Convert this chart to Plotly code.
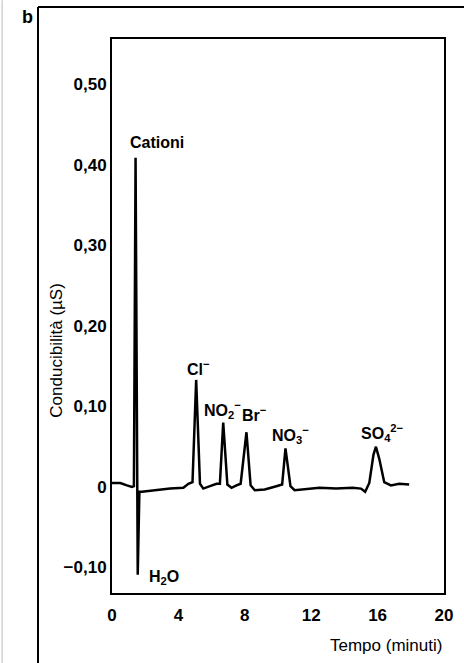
import plotly.graph_objects as go

# Chromatogram trace (time in minutes, conductivity in µS)
time_min = [0.0, 0.5, 0.9, 1.2, 1.32, 1.42, 1.55, 1.65, 1.8, 2.5, 3.5, 4.3, 4.6,
            4.85, 5.07, 5.3, 5.5, 5.9, 6.3, 6.5, 6.7, 6.95, 7.2, 7.5, 7.75, 8.1,
            8.35, 8.6, 9.2, 9.9, 10.25, 10.45, 10.75, 11.0, 11.5, 12.5, 13.5,
            14.5, 15.0, 15.25, 15.5, 15.75, 15.9, 16.1, 16.4, 16.8, 17.3, 17.9]
conduct_uS = [0.005, 0.005, 0.002, 0.0, 0.001, 0.409, -0.109, -0.006, -0.006, -0.004,
              -0.002, -0.001, 0.004, 0.006, 0.133, 0.004, -0.002, 0.001, 0.004, 0.004,
              0.080, 0.003, -0.001, 0.002, 0.004, 0.068, 0.002, -0.004, -0.003, 0.001,
              0.003, 0.048, 0.001, -0.004, -0.003, -0.001, -0.002, -0.001, -0.002,
              -0.006, 0.005, 0.040, 0.050, 0.035, 0.006, 0.002, 0.004, 0.003]

y_tickvals = [-0.10, 0.0, 0.10, 0.20, 0.30, 0.40, 0.50]
y_ticktext = ["\u22120,10", "0", "0,10", "0,20", "0,30", "0,40", "0,50"]
x_tickvals = [0, 4, 8, 12, 16, 20]
x_ticktext = ["0", "4", "8", "12", "16", "20"]

peak_labels = ["Cationi", "Cl<sup>\u2212</sup>", "NO<sub>2</sub><sup>\u2212</sup>",
               "Br<sup>\u2212</sup>", "NO<sub>3</sub><sup>\u2212</sup>",
               "SO<sub>4</sub><sup>2\u2212</sup>", "H<sub>2</sub>O"]
label_x = [2.72, 5.2, 6.65, 8.6, 10.75, 16.3, 3.14]
label_y = [0.428, 0.148, 0.096, 0.091, 0.065, 0.067, -0.113]

FONT = "Liberation Sans, Arial, sans-serif"

fig = go.Figure()
fig.add_trace(go.Scatter(x=time_min, y=conduct_uS, mode="lines",
                         line=dict(color="black", width=2.5), hoverinfo="skip"))

for txt, lx, ly in zip(peak_labels, label_x, label_y):
    fig.add_annotation(x=lx, y=ly, xref="x", yref="y", text=f"<b>{txt}</b>",
                       xanchor="center", yanchor="middle",
                       showarrow=False, font=dict(family=FONT, size=16, color="black"))

# axis titles
fig.add_annotation(x=1.0, y=-0.094, xref="paper", yref="paper", xanchor="right",
                   yanchor="middle", text="Tempo (minuti)", showarrow=False,
                   font=dict(family=FONT, size=17, color="black"))
fig.add_annotation(x=-0.166, y=0.439, xref="paper", yref="paper", textangle=-90,
                   xanchor="center", yanchor="middle",
                   text="Conducibilità (µS)", showarrow=False,
                   font=dict(family=FONT, size=17, color="black"))
# panel letter
fig.add_annotation(x=-0.256, y=1.04, xref="paper", yref="paper", text="<b>b</b>",
                   xanchor="center", yanchor="middle",
                   showarrow=False, font=dict(family=FONT, size=18, color="black"))

# outer panel frame
fig.add_shape(type="line", xref="paper", yref="paper", x0=-0.2229, x1=1.07,
              y0=1.0578, y1=1.0578, line=dict(color="black", width=2))
fig.add_shape(type="line", xref="paper", yref="paper", x0=-0.2229, x1=-0.2229,
              y0=1.0578, y1=-0.13, line=dict(color="black", width=2))
fig.add_shape(type="line", xref="paper", yref="paper", x0=-0.331, x1=-0.331,
              y0=1.07, y1=-0.13, line=dict(color="#bbbbbb", width=1))

fig.update_layout(
    width=464, height=663,
    margin=dict(l=112, r=20, t=39, b=70),
    paper_bgcolor="white", plot_bgcolor="white",
    showlegend=False,
    font=dict(family=FONT, size=16, color="black"),
    xaxis=dict(range=[0, 20], tickvals=x_tickvals, ticktext=x_ticktext,
               showgrid=False, zeroline=False, showline=True, mirror=True,
               linecolor="black", linewidth=2, ticks="", ticklabelstandoff=6,
               tickfont=dict(family=FONT, size=17, color="black", weight="bold")),
    yaxis=dict(range=[-0.1317, 0.5565], tickvals=y_tickvals, ticktext=y_ticktext,
               showgrid=False, zeroline=False, showline=True, mirror=True,
               linecolor="black", linewidth=2, ticks="",
               tickfont=dict(family=FONT, size=17, color="black", weight="bold")),
)

fig.write_html("out.html")
